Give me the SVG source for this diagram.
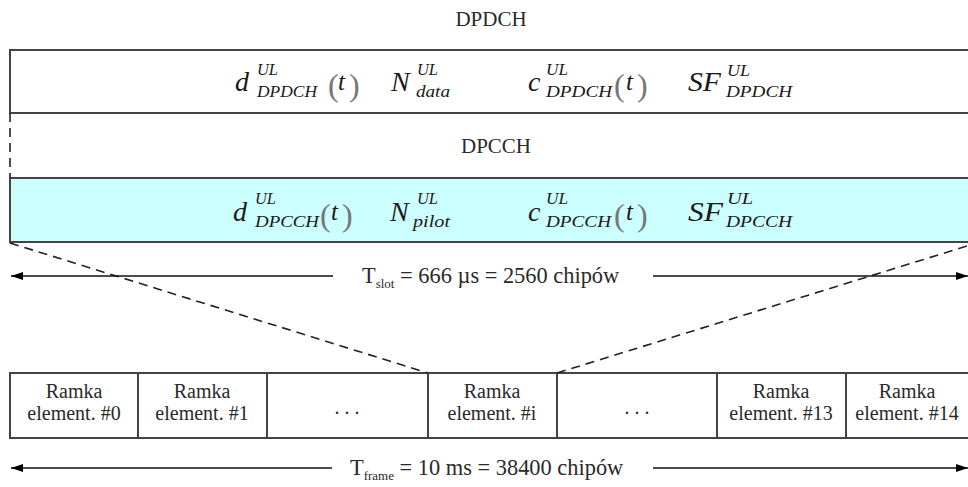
<svg xmlns="http://www.w3.org/2000/svg" width="968" height="487" viewBox="0 0 968 487">
<defs>
<marker id="ah" viewBox="0 0 12 8" refX="12" refY="4" markerWidth="12" markerHeight="8" markerUnits="userSpaceOnUse" orient="auto-start-reverse">
<path d="M0,0 L12,4 L0,8 z" fill="#000"/>
</marker>
<style>
text{font-family:"Liberation Serif","DejaVu Serif","Times New Roman",serif}
.lbl{font-size:21px;fill:#2a2a2a;text-anchor:middle}
.cell{font-size:20px;fill:#2a2a2a;text-anchor:middle}
.dim{font-size:22.4px;fill:#2a2a2a}
.m{font-style:italic;font-size:28px;fill:#1a1a1a}
.s{font-style:italic;font-size:16px;fill:#1a1a1a}
.p{font-size:32px;fill:#777}
.t{font-style:italic;font-size:25px;fill:#1a1a1a}
.bx{fill:none;stroke:#444;stroke-width:2}
.cy{fill:#ccffff;stroke:#444;stroke-width:2}
.dash{fill:none;stroke:#222;stroke-width:1.6;stroke-dasharray:9,6}
.arr{fill:none;stroke:#111;stroke-width:1.6}
</style>
</defs>

<g id="dpdch">
<text class="lbl" x="491" y="26">DPDCH</text>
<rect class="bx" x="10" y="50" width="980" height="63"/>
<text class="m" x="235" y="91">d</text>
<text class="s" x="257" y="75" textLength="21" lengthAdjust="spacingAndGlyphs">UL</text>
<text class="s" x="257" y="97" textLength="60" lengthAdjust="spacingAndGlyphs">DPDCH</text>
<text class="p" x="328" y="96">(</text>
<text class="t" x="338" y="90">t</text>
<text class="p" x="349" y="96">)</text>
<text class="m" x="391" y="91">N</text>
<text class="s" x="417" y="75" textLength="21" lengthAdjust="spacingAndGlyphs">UL</text>
<text class="s" x="416" y="97" textLength="34" lengthAdjust="spacingAndGlyphs">data</text>
<text class="m" x="528" y="91">c</text>
<text class="s" x="546" y="75" textLength="22" lengthAdjust="spacingAndGlyphs">UL</text>
<text class="s" x="546" y="97" textLength="66" lengthAdjust="spacingAndGlyphs">DPDCH</text>
<text class="p" x="614" y="96">(</text>
<text class="t" x="626" y="90">t</text>
<text class="p" x="637" y="96">)</text>
<text class="m" x="688" y="91" textLength="33" lengthAdjust="spacingAndGlyphs">SF</text>
<text class="s" x="727" y="76" textLength="23" lengthAdjust="spacingAndGlyphs">UL</text>
<text class="s" x="726" y="97" textLength="66" lengthAdjust="spacingAndGlyphs">DPDCH</text>
</g>

<g id="dpcch">
<text class="lbl" x="496" y="153">DPCCH</text>
<rect class="cy" x="10" y="178" width="980" height="64"/>
<text class="m" x="233" y="221">d</text>
<text class="s" x="255" y="204" textLength="21" lengthAdjust="spacingAndGlyphs">UL</text>
<text class="s" x="255" y="227" textLength="64" lengthAdjust="spacingAndGlyphs">DPCCH</text>
<text class="p" x="320" y="226">(</text>
<text class="t" x="331" y="220">t</text>
<text class="p" x="342" y="226">)</text>
<text class="m" x="390" y="221">N</text>
<text class="s" x="417" y="204" textLength="21" lengthAdjust="spacingAndGlyphs">UL</text>
<text class="s" x="413" y="227" textLength="37" lengthAdjust="spacingAndGlyphs">pilot</text>
<text class="m" x="528" y="221">c</text>
<text class="s" x="546" y="204" textLength="22" lengthAdjust="spacingAndGlyphs">UL</text>
<text class="s" x="546" y="227" textLength="65" lengthAdjust="spacingAndGlyphs">DPCCH</text>
<text class="p" x="614" y="226">(</text>
<text class="t" x="626" y="220">t</text>
<text class="p" x="637" y="226">)</text>
<text class="m" x="688" y="221" textLength="35" lengthAdjust="spacingAndGlyphs">SF</text>
<text class="s" x="727" y="204" textLength="26" lengthAdjust="spacingAndGlyphs">UL</text>
<text class="s" x="726" y="227" textLength="66" lengthAdjust="spacingAndGlyphs">DPCCH</text>
</g>

<g id="frame">
<rect class="bx" x="10" y="373" width="980" height="65"/>
<line class="bx" x1="138" y1="373" x2="138" y2="438"/>
<line class="bx" x1="267" y1="373" x2="267" y2="438"/>
<line class="bx" x1="428" y1="373" x2="428" y2="438"/>
<line class="bx" x1="557" y1="373" x2="557" y2="438"/>
<line class="bx" x1="717" y1="373" x2="717" y2="438"/>
<line class="bx" x1="846" y1="373" x2="846" y2="438"/>
</g>
<g id="cell0"><text class="cell" x="74" y="398">Ramka</text><text class="cell" x="74" y="420">element. #0</text></g>
<g id="cell1"><text class="cell" x="202" y="398">Ramka</text><text class="cell" x="202" y="420">element. #1</text></g>
<g id="cell2"><text class="cell" x="347" y="414">. . .</text></g>
<g id="cell3"><text class="cell" x="492" y="398">Ramka</text><text class="cell" x="492" y="420">element. #i</text></g>
<g id="cell4"><text class="cell" x="637" y="414">. . .</text></g>
<g id="cell5"><text class="cell" x="781" y="398">Ramka</text><text class="cell" x="781" y="420">element. #13</text></g>
<g id="cell6"><text class="cell" x="907" y="398">Ramka</text><text class="cell" x="907" y="420">element. #14</text></g>

<g id="connectors">
<line class="dash" x1="10" y1="113" x2="10" y2="178"/>
<line class="dash" x1="10" y1="243" x2="428" y2="373"/>
<line class="dash" x1="557" y1="373" x2="980" y2="242"/>
<line class="arr" x1="333" y1="276" x2="11" y2="276" marker-end="url(#ah)"/>
<line class="arr" x1="653" y1="276" x2="968" y2="276" marker-end="url(#ah)"/>
<line class="arr" x1="332" y1="468" x2="11" y2="468" marker-end="url(#ah)"/>
<line class="arr" x1="653" y1="468" x2="968" y2="468" marker-end="url(#ah)"/>
</g>

<g id="dims">
<text class="dim" x="362" y="283">T<tspan font-size="13" dy="5">slot</tspan><tspan dy="-5"> = 666 µs = 2560 chipów</tspan></text>
<text class="dim" x="350" y="475">T<tspan font-size="13" dy="5">frame</tspan><tspan dy="-5"> = 10 ms = 38400 chipów</tspan></text>
</g>
</svg>
